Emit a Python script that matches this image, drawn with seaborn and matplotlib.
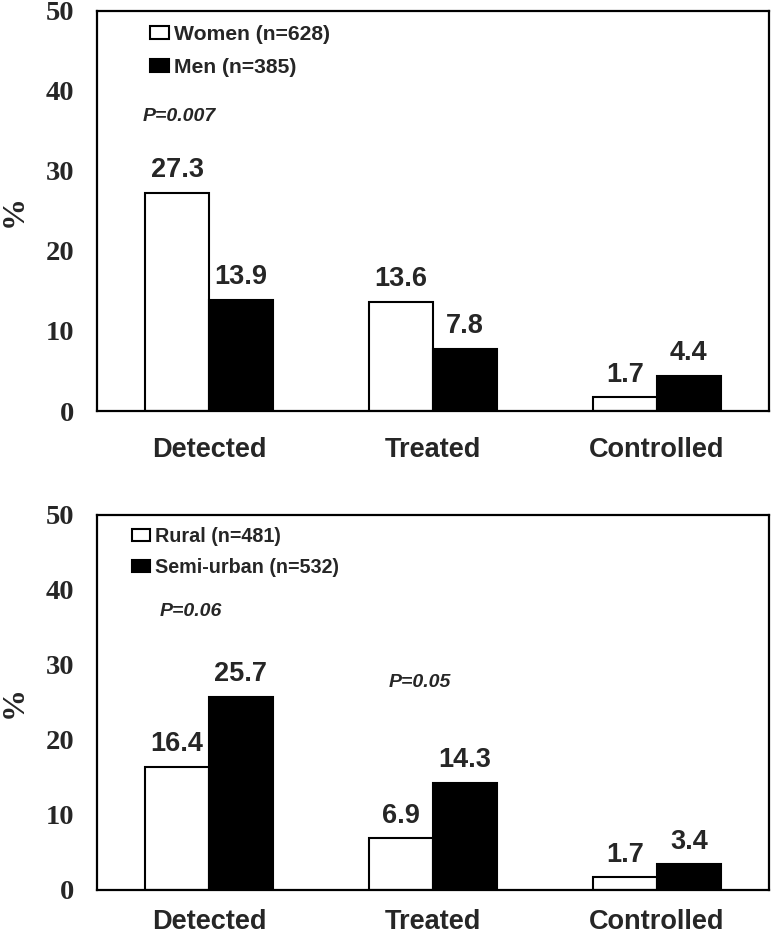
import matplotlib

matplotlib.use("Agg")
import matplotlib.pyplot as plt
import pandas as pd
import seaborn as sns


stages = ["Detected", "Treated", "Controlled"]

sex_labels = ["Women (n=628)", "Men (n=385)"]
women_pct = [27.3, 13.6, 1.7]
men_pct = [13.9, 7.8, 4.4]

area_labels = ["Rural (n=481)", "Semi-urban (n=532)"]
rural_pct = [16.4, 6.9, 1.7]
semi_urban_pct = [25.7, 14.3, 3.4]

y_ticks = [0, 10, 20, 30, 40, 50]

SANS = "Liberation Sans"
SERIF = "Liberation Serif"


def make_frame(labels, first, second):
    return pd.DataFrame(
        {
            "stage": stages * 2,
            "pct": list(first) + list(second),
            "group": [labels[0]] * len(stages) + [labels[1]] * len(stages),
        }
    )


def draw_panel(ax, df, labels, legend_anchor, legend_size, spacing, xpad):
    sns.barplot(
        data=df,
        x="stage",
        y="pct",
        hue="group",
        hue_order=labels,
        order=stages,
        palette=["white", "black"],
        width=0.57,
        edgecolor="black",
        linewidth=1.5,
        errorbar=None,
        ax=ax,
    )

    for container in ax.containers:
        ax.bar_label(
            container,
            fmt="%.1f",
            padding=7,
            fontsize=19.5,
            fontweight="bold",
            family=SANS,
        )

    ax.set_xlim(-0.5, 2.5)
    ax.set_ylim(0, 50)
    ax.set_yticks(y_ticks)
    ax.set_yticklabels([str(t) for t in y_ticks], family=SERIF,
                       fontweight="bold", fontsize=20.5)
    ax.set_xticks(range(len(stages)))
    ax.set_xticklabels(stages, family=SANS, fontweight="bold", fontsize=19.5)
    ax.set_xticks([-0.5, 0.5, 1.5, 2.5], minor=True)
    ax.tick_params(axis="x", which="major", length=0, pad=xpad)
    ax.tick_params(axis="x", which="minor", length=6.5, width=1.5,
                   direction="out")
    ax.tick_params(axis="y", length=6.5, width=1.5, direction="out", pad=10)

    ax.set_xlabel("")
    ax.set_ylabel("%", family=SERIF, fontweight="bold", fontsize=23)
    ax.yaxis.set_label_coords(-0.101, 0.5)

    for side in ["left", "right", "top", "bottom"]:
        ax.spines[side].set_visible(True)
        ax.spines[side].set_linewidth(1.6)
        ax.spines[side].set_color("black")

    handles, names = ax.get_legend_handles_labels()
    ax.legend(
        handles,
        names,
        loc="upper left",
        bbox_to_anchor=legend_anchor,
        frameon=False,
        borderpad=0,
        borderaxespad=0,
        handlelength=0.9,
        handleheight=0.6,
        handletextpad=0.25,
        labelspacing=spacing,
        prop={"family": SANS, "weight": "bold", "size": legend_size},
    )


def main():
    sns.set_style("white")
    plt.rcParams.update(
        {
            "font.family": [SANS, "DejaVu Sans"],
            "axes.facecolor": "white",
            "figure.facecolor": "white",
        }
    )

    fig = plt.figure(figsize=(7.74, 9.39), dpi=100)
    ax_top = fig.add_axes([0.1253, 0.5623, 0.8682, 0.426])
    ax_bottom = fig.add_axes([0.1253, 0.0522, 0.8682, 0.3994])

    draw_panel(ax_top, make_frame(sex_labels, women_pct, men_pct),
               sex_labels, (0.079, 0.965), 15.2, 0.65, 19)
    draw_panel(ax_bottom, make_frame(area_labels, rural_pct, semi_urban_pct),
               area_labels, (0.052, 0.968), 14.2, 0.6, 14)

    p_style = dict(ha="center", va="center", fontsize=14, fontweight="bold",
                   style="italic", family=SANS)
    ax_top.text(-0.134, 36.75, "P=0.007", **p_style)
    ax_bottom.text(-0.08, 37.1, "P=0.06", **p_style)
    ax_bottom.text(0.94, 27.6, "P=0.05", **p_style)

    fig.savefig("out.png", dpi=100)
    plt.close(fig)


if __name__ == "__main__":
    main()
